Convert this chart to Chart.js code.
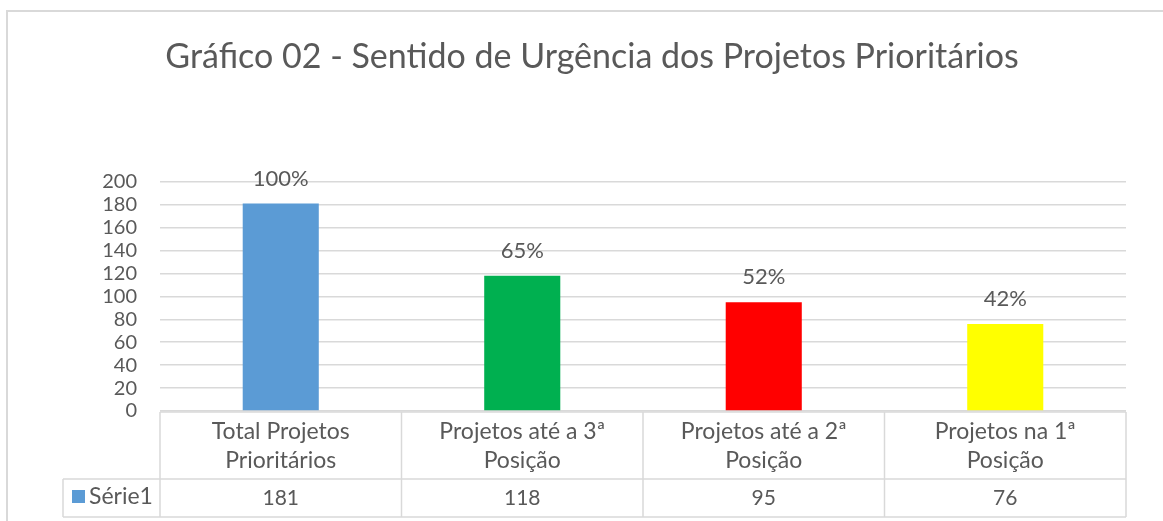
<!DOCTYPE html>
<html>
<head>
<meta charset="utf-8">
<script src="https://cdn.jsdelivr.net/npm/chart.js@4.4.1/dist/chart.umd.min.js"></script>
<style>
  html, body { margin: 0; padding: 0; background: #ffffff; }
  #wrap { width: 1163px; height: 521px; position: relative; }
</style>
</head>
<body>
<div id="wrap"><canvas id="c" width="1163" height="521"></canvas></div>
<script>
// ---- Data ----
const categories = [
  ['Total Projetos', 'Prioritários'],
  ['Projetos até a 3ª', 'Posição'],
  ['Projetos até a 2ª', 'Posição'],
  ['Projetos na 1ª', 'Posição']
];
const seriesName = 'Série1';
const values = [181, 118, 95, 76];
const pctLabels = ['100%', '65%', '52%', '42%'];
const barColors = ['#5B9BD5', '#00B050', '#FF0000', '#FFFF00'];
const yTicks = [0, 20, 40, 60, 80, 100, 120, 140, 160, 180, 200];
const titleText = 'Gráfico 02 - Sentido de Urgência dos Projetos Prioritários';

const FONT = 'Lato, "Open Sans", sans-serif';
const TEXT = '#595959';
const LINE = '#d9d9d9';

const tablePlugin = {
  id: 'excelTable',
  beforeDraw(chart) {
    const ctx = chart.ctx;
    ctx.save();
    ctx.strokeStyle = LINE;
    ctx.lineWidth = 2;
    ctx.beginPath();
    ctx.moveTo(7, 530);
    ctx.lineTo(7, 11);
    ctx.lineTo(1200, 11);
    ctx.stroke();
    ctx.restore();
  },
  afterDatasetsDraw(chart) {
    const ctx = chart.ctx;
    const ca = chart.chartArea;
    const xs = chart.scales.x;
    const n = categories.length;
    const colW = (ca.right - ca.left) / n;
    const top = ca.bottom + 1;
    const headerBottom = top + 67;
    const rowBottom = headerBottom + 38;
    const legendLeft = 63;
    ctx.save();
    const meta = chart.getDatasetMeta(0);
    ctx.fillStyle = TEXT;
    ctx.font = '22px ' + FONT;
    ctx.textAlign = 'center';
    ctx.textBaseline = 'middle';
    meta.data.forEach((bar, i) => {
      ctx.fillText(pctLabels[i], bar.x, bar.y - 25);
    });
    ctx.strokeStyle = LINE;
    ctx.lineWidth = 1.5;
    ctx.beginPath();
    ctx.moveTo(ca.left, top); ctx.lineTo(ca.right, top);
    ctx.moveTo(legendLeft, headerBottom); ctx.lineTo(ca.right, headerBottom);
    ctx.moveTo(legendLeft, rowBottom); ctx.lineTo(ca.right, rowBottom);
    ctx.moveTo(legendLeft, headerBottom); ctx.lineTo(legendLeft, rowBottom);
    for (let i = 0; i <= n; i++) {
      const x = ca.left + i * colW;
      ctx.moveTo(x, top); ctx.lineTo(x, rowBottom);
    }
    ctx.stroke();
    ctx.fillStyle = TEXT;
    ctx.textAlign = 'center';
    ctx.textBaseline = 'middle';
    categories.forEach((lines, i) => {
      const cx = xs.getPixelForTick(i);
      ctx.font = '23px ' + FONT;
      ctx.fillText(lines[0], cx, top + 20);
      ctx.fillText(lines[1], cx, top + 49);
      ctx.font = '21px ' + FONT;
      ctx.fillText(String(values[i]), cx, headerBottom + 19);
    });
    ctx.fillStyle = barColors[0];
    ctx.fillRect(72, headerBottom + 11, 13, 13);
    ctx.fillStyle = TEXT;
    ctx.textAlign = 'left';
    ctx.font = '23px ' + FONT;
    ctx.fillText(seriesName, 89, headerBottom + 18);
    ctx.restore();
  }
};

new Chart(document.getElementById('c'), {
  type: 'bar',
  data: {
    labels: categories.map(l => l.join(' ')),
    datasets: [{
      label: seriesName,
      data: values,
      backgroundColor: barColors,
      borderWidth: 0,
      categoryPercentage: 1.0,
      barPercentage: 0.315
    }]
  },
  options: {
    responsive: false,
    animation: false,
    devicePixelRatio: 1,
    layout: { padding: { left: 21, right: 0, top: 10, bottom: 110 } },
    plugins: {
      legend: { display: false },
      tooltip: { enabled: false },
      title: {
        display: true,
        text: titleText,
        color: TEXT,
        font: { family: FONT, size: 34, weight: 'normal', lineHeight: 1.2 },
        padding: { top: 27, bottom: 104 }
      }
    },
    scales: {
      x: { display: false, offset: true },
      y: {
        min: 0, max: 200,
        afterBuildTicks(scale) { scale.ticks = yTicks.map(v => ({ value: v })); },
        afterFit(scale) { scale.width = 139; },
        border: { display: false },
        grid: { color: LINE, lineWidth: 1.5, drawTicks: false },
        ticks: { color: TEXT, padding: 23, autoSkip: false, font: { family: FONT, size: 20 } }
      },
      yRight: {
        position: 'right',
        display: true,
        min: 0, max: 200,
        afterFit(scale) { scale.width = 37; },
        border: { display: false },
        grid: { display: false, drawTicks: false },
        ticks: { display: false }
      }
    }
  },
  plugins: [tablePlugin]
});
</script>
</body>
</html>
